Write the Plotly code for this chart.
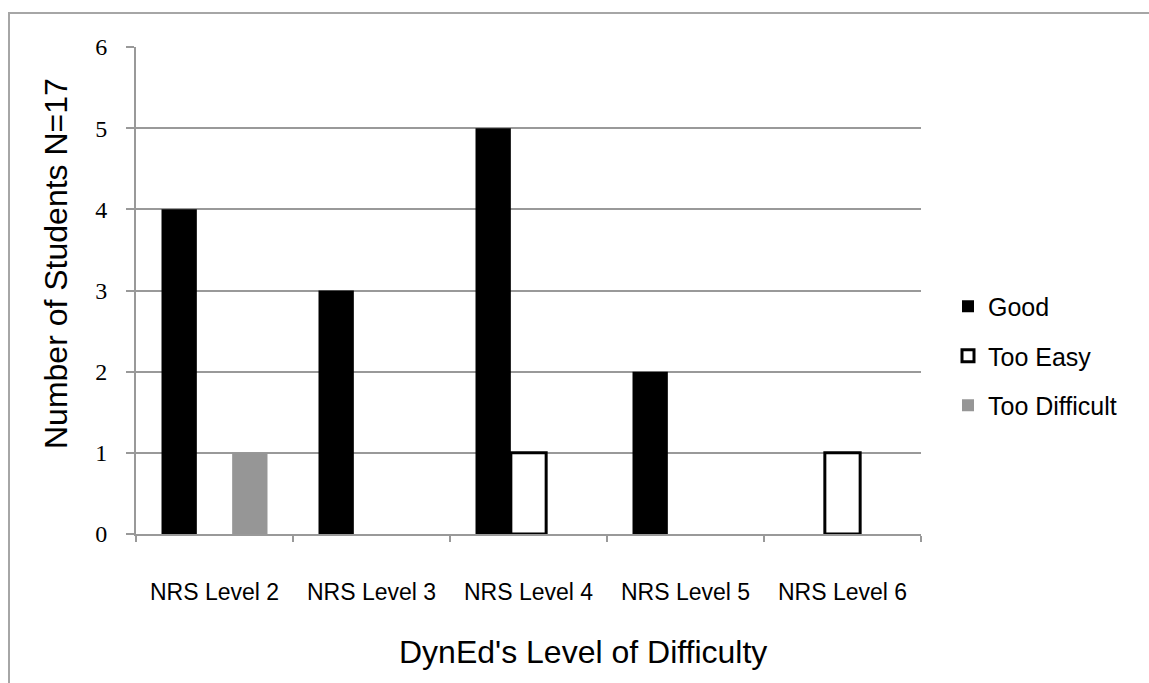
import plotly.graph_objects as go

categories = ["NRS Level 2", "NRS Level 3", "NRS Level 4", "NRS Level 5", "NRS Level 6"]
good = [4, 3, 5, 2, 0]
too_easy = [0, 0, 1, 0, 1]
too_difficult = [1, 0, 0, 0, 0]

x_title = "DynEd's Level of Difficulty"
y_title = "Number of Students N=17"

L, R, T, B = 136, 228, 47, 149
W, H = 1149, 683
pw, ph = W - L - R, H - T - B

def px_x(x):
    return (x - L) / pw

def px_y(y):
    return (H - B - y) / ph

SANS = "Liberation Sans, Arial, Helvetica, sans-serif"

# zero counts are left empty so no outline is drawn for them (as in the original)
def nz(values):
    return [v if v else None for v in values]

fig = go.Figure()
fig.add_trace(go.Bar(name="Good", x=categories, y=nz(good),
                     marker=dict(color="#000000", line=dict(color="#000000", width=0)),
                     legendgroup="a"))
fig.add_trace(go.Bar(name="Too Easy", x=categories, y=nz(too_easy),
                     marker=dict(color="#ffffff", line=dict(color="#000000", width=3)),
                     legendgroup="b"))
fig.add_trace(go.Bar(name="Too Difficult", x=categories, y=nz(too_difficult),
                     marker=dict(color="#969696", line=dict(color="#969696", width=0)),
                     legendgroup="c"))

fig.update_layout(
    width=W, height=H,
    margin=dict(l=L, r=R, t=T, b=B, autoexpand=False),
    paper_bgcolor="white", plot_bgcolor="white",
    barmode="group", bargap=0.325, bargroupgap=0,
    font=dict(family=SANS, color="#000000"),
    showlegend=True,
    legend=dict(x=px_x(948), xanchor="left", y=px_y(356), yanchor="middle",
                font=dict(size=25, family=SANS),
                traceorder="grouped", tracegroupgap=14, bgcolor="rgba(0,0,0,0)"),
    xaxis=dict(
        type="category", tickson="boundaries", ticks="outside", ticklen=6,
        tickcolor="#999999", tickwidth=2, showline=True, linecolor="#999999", linewidth=2,
        showgrid=False, tickfont=dict(size=23, family=SANS),
        ticklabelstandoff=36,
        automargin=False,
    ),
    yaxis=dict(
        range=[0, 6], dtick=1, ticks="outside", ticklen=8, tickcolor="#999999", tickwidth=2,
        showline=True, linecolor="#999999", linewidth=2,
        showgrid=True, gridcolor="#999999", gridwidth=2, zeroline=False,
        tickfont=dict(size=24, family="Liberation Serif, DejaVu Serif, serif"),
        ticklabelstandoff=14,
        automargin=False,
    ),
    annotations=[
        dict(text=x_title, xref="paper", yref="paper", x=px_x(583), y=px_y(652),
             xanchor="center", yanchor="middle", showarrow=False,
             font=dict(size=32, family=SANS)),
        dict(text=y_title, xref="paper", yref="paper", x=px_x(56), y=px_y(264),
             xanchor="center", yanchor="middle", showarrow=False, textangle=-90,
             font=dict(size=32, family=SANS)),
    ],
    shapes=[dict(type="rect", xref="paper", yref="paper",
                 x0=px_x(9), x1=px_x(1200), y0=px_y(720), y1=px_y(13),
                 line=dict(color="#a6a6a6", width=2), fillcolor="rgba(0,0,0,0)",
                 layer="below")],
)

fig.write_html("out.html")
